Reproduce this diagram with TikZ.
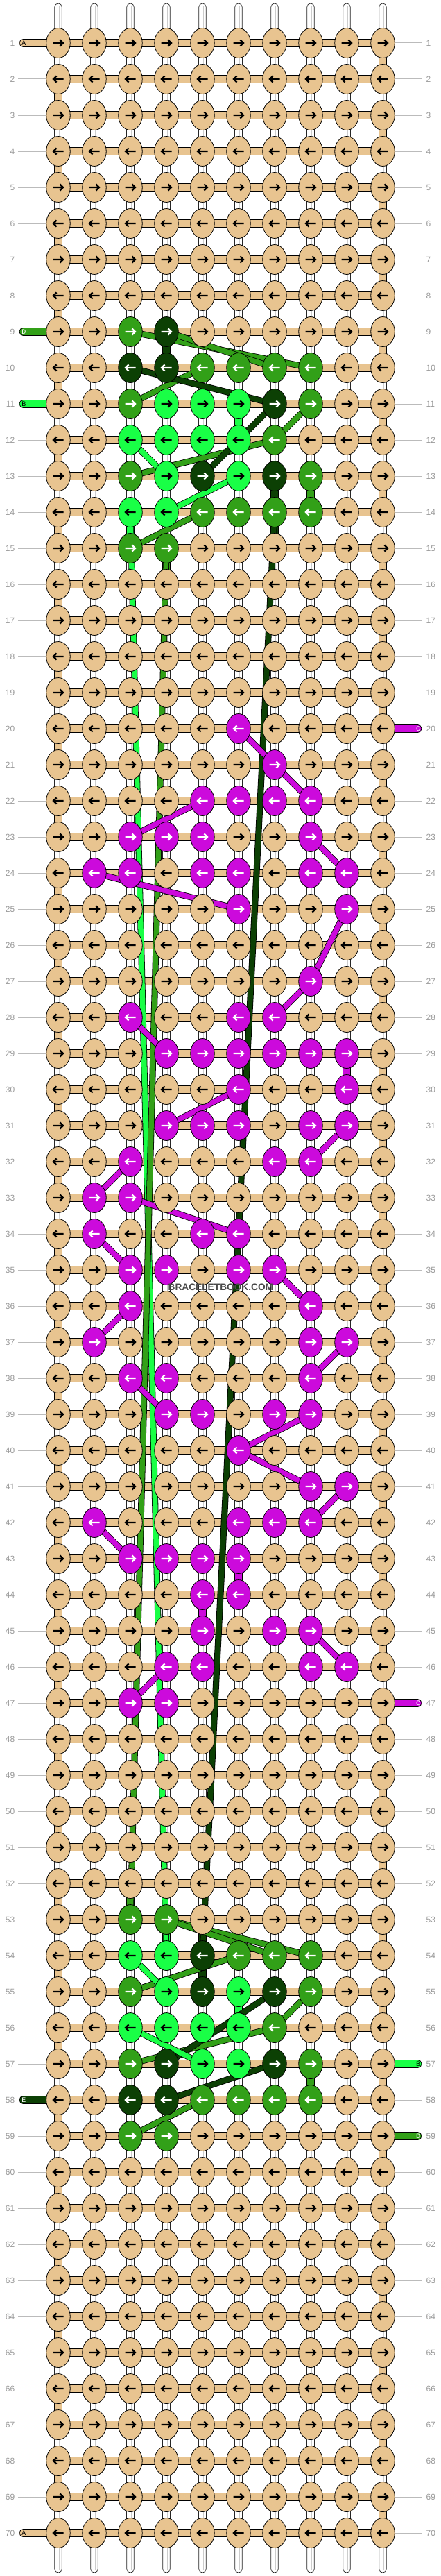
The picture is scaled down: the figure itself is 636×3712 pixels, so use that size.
\documentclass[tikz,border=0pt]{standalone}
\usepackage{fontspec}
\setmainfont{Liberation Sans}
\newfontfamily\monof{Liberation Mono}
\usetikzlibrary{shapes.geometric}
\pgfdeclarelayer{bg}
\pgfdeclarelayer{mid}
\pgfsetlayers{bg,mid,main}
\definecolor{colT}{HTML}{E8C490}
\definecolor{colG}{HTML}{32A018}
\definecolor{colK}{HTML}{0C4004}
\definecolor{colL}{HTML}{19FF46}
\definecolor{colP}{HTML}{CC0ADC}
\colorlet{arT}{black}\colorlet{arL}{black}\colorlet{arG}{white}\colorlet{arK}{white}\colorlet{arP}{white}
\definecolor{labgray}{HTML}{9A9A9A}
\definecolor{linegray}{HTML}{BBBBBB}
\definecolor{wmgray}{HTML}{4A4A4A}
\newcommand\setrow[2]{\foreach \cc/\kk in {#2}{\expandafter\xdef\csname kc#1-\cc\endcsname{\kk}}}
\newcommand\setvs[3]{\expandafter\xdef\csname vs#1-#2\endcsname{#3}}
\newcommand\carryln[3]{\draw[carry=#1] (k-#2.center) -- (k-#3.center);}
\def\vW{W}
\setrow{9}{3/G,4/K}
\setrow{10}{3/K,4/K,5/G,6/G,7/G,8/G}
\setrow{11}{3/G,4/L,5/L,6/L,7/K,8/G}
\setrow{12}{3/L,4/L,5/L,6/L,7/G}
\setrow{13}{3/G,4/L,5/K,6/L,7/K,8/G}
\setrow{14}{3/L,4/L,5/G,6/G,7/G,8/G}
\setrow{15}{3/G,4/G}
\setrow{20}{6/P}
\setrow{21}{7/P}
\setrow{22}{5/P,6/P,7/P,8/P}
\setrow{23}{3/P,4/P,5/P,8/P}
\setrow{24}{2/P,3/P,5/P,6/P,8/P,9/P}
\setrow{25}{6/P,9/P}
\setrow{27}{8/P}
\setrow{28}{3/P,6/P,7/P}
\setrow{29}{4/P,5/P,6/P,7/P,8/P,9/P}
\setrow{30}{6/P,9/P}
\setrow{31}{4/P,5/P,6/P,8/P,9/P}
\setrow{32}{3/P,7/P,8/P}
\setrow{33}{2/P,3/P}
\setrow{34}{2/P,5/P,6/P}
\setrow{35}{3/P,4/P,6/P,7/P}
\setrow{36}{3/P,8/P}
\setrow{37}{2/P,8/P,9/P}
\setrow{38}{3/P,4/P,8/P}
\setrow{39}{4/P,5/P,7/P,8/P}
\setrow{40}{6/P}
\setrow{41}{8/P,9/P}
\setrow{42}{2/P,6/P,7/P,8/P}
\setrow{43}{3/P,4/P,5/P,6/P}
\setrow{44}{5/P,6/P}
\setrow{45}{5/P,7/P,8/P}
\setrow{46}{4/P,5/P,8/P,9/P}
\setrow{47}{3/P,4/P}
\setrow{53}{3/G,4/G}
\setrow{54}{3/L,4/L,5/K,6/G,7/G,8/G}
\setrow{55}{3/G,4/L,5/K,6/L,7/K,8/G}
\setrow{56}{3/L,4/L,5/L,6/L,7/G}
\setrow{57}{3/G,4/K,5/L,6/L,7/K,8/G}
\setrow{58}{3/K,4/K,5/G,6/G,7/G,8/G}
\setrow{59}{3/G,4/G}
\setvs{9}{4}{K}\setvs{11}{6}{L}\setvs{13}{7}{K}\setvs{13}{8}{G}\setvs{14}{3}{L}\setvs{14}{7}{K}\setvs{15}{4}{G}
\setvs{29}{9}{P}\setvs{43}{6}{P}\setvs{44}{5}{P}
\setvs{52}{3}{G}\setvs{53}{4}{L}\setvs{53}{5}{K}\setvs{54}{5}{K}\setvs{55}{6}{L}\setvs{57}{8}{G}
\expandafter\def\csname lt1\endcsname{}\expandafter\def\csname lt9\endcsname{}\expandafter\def\csname lt11\endcsname{}
\expandafter\def\csname lt58\endcsname{}\expandafter\def\csname lt70\endcsname{}
\expandafter\def\csname rt20\endcsname{}\expandafter\def\csname rt47\endcsname{}\expandafter\def\csname rt57\endcsname{}\expandafter\def\csname rt59\endcsname{}
\tikzset{
  knot/.style={ellipse, draw=black, line width=0.8pt, minimum width=34.5pt, minimum height=43pt, inner sep=0pt},
  arr/.style={line width=2.4pt, line cap=butt, line join=miter},
  hseg/.style={fill=colT, draw=black, line width=0.8pt},
  basestr/.style={fill=white, draw=black!85, line width=0.7pt},
  baseline/.style={draw=gray!40, line width=0.8pt},
  carry/.style={draw=black, line width=0.8pt, double=col#1, double distance=7.5pt},
  rowlab/.style={text=labgray, inner sep=0pt, font=\fontsize{12}{12}\selectfont},
  gline/.style={draw=linegray, line width=1pt},
  taillab/.style={inner sep=0pt, font=\monof\fontsize{10}{10}\selectfont}
}
\begin{document}
\begin{tikzpicture}[x=1pt,y=-1pt]
\useasboundingbox (0,0) rectangle (636,3712);
\begin{pgfonlayer}{bg}
\foreach \r in {1,...,70}{
  \pgfmathsetmacro\yy{62+52*(\r-1)}
  \node[rowlab, anchor=east] (ll-\r) at (21.5,\yy) {\r};
  \node[rowlab, anchor=west] (rl-\r) at (614.5,\yy) {\r};
  \ifcsname lt\r\endcsname\else\draw[gline] (26,\yy) -- (67,\yy);\fi
  \ifcsname rt\r\endcsname\else\draw[gline] (569,\yy) -- (608,\yy);\fi
}
\foreach \r/\tc/\lb/\lc in {1/T/A/black,9/G/D/white,11/L/B/black,58/K/E/white,70/T/A/black}{
  \pgfmathsetmacro\yy{62+52*(\r-1)}
  \filldraw[fill=col\tc, draw=black, line width=0.8pt, rounded corners=5.4pt] (28,\yy-5.5) rectangle (84,\yy+5.5);
  \node[taillab, text=\lc] (lt-\r) at (34.5,\yy) {\lb};
}
\foreach \r/\tc/\lb/\lc in {20/P/C/white,47/P/C/white,57/L/B/black,59/G/D/white}{
  \pgfmathsetmacro\yy{62+52*(\r-1)}
  \filldraw[fill=col\tc, draw=black, line width=0.8pt, rounded corners=5.4pt] (552,\yy-5.5) rectangle (608,\yy+5.5);
  \node[taillab, text=\lc] (rt-\r) at (603,\yy) {\lb};
}
\foreach \c in {1,...,10}{
  \pgfmathsetmacro\xx{84+52*(\c-1)}
  \filldraw[basestr, rounded corners=5pt] (\xx-5.2,5) rectangle (\xx+5.2,62);
  \draw[baseline] (\xx+1.2,9) -- (\xx+1.2,62);
  \filldraw[basestr, rounded corners=5pt] (\xx-5.2,3650) rectangle (\xx+5.2,3707);
  \draw[baseline] (\xx+1.2,3650) -- (\xx+1.2,3703);
}
\foreach \r in {1,...,69}{\foreach \c in {1,...,10}{
  \def\vc{W}
  \ifnum\c=10 \ifodd\r\relax\def\vc{T}\fi\fi
  \ifnum\c=1 \ifodd\r\relax\else\def\vc{T}\fi\fi
  \ifcsname vs\r-\c\endcsname\edef\vc{\csname vs\r-\c\endcsname}\fi
  \ifx\vc\vW
    \filldraw[basestr] ({84+52*(\c-1)-5.2},{62+52*(\r-1)}) rectangle ++(10.4,52);
    \draw[baseline] ({84+52*(\c-1)+1.2},{62+52*(\r-1)}) -- ++(0,52);
  \else
    \filldraw[fill=col\vc, draw=black, line width=0.8pt] ({84+52*(\c-1)-5.2},{62+52*(\r-1)}) rectangle ++(10.4,52);
  \fi
}}
\foreach \r in {1,...,70}{\foreach \c in {1,...,9}{
  \filldraw[hseg] ({84+52*(\c-1)},{62+52*(\r-1)-5.5}) rectangle ({84+52*\c},{62+52*(\r-1)+5.5});
}}
\end{pgfonlayer}
\foreach \r in {1,...,70}{\foreach \c in {1,...,10}{
  \ifcsname kc\r-\c\endcsname\edef\kcol{\csname kc\r-\c\endcsname}\else\def\kcol{T}\fi
  \node[knot, fill=col\kcol] (k-\r-\c) at ({84+52*(\c-1)},{62+52*(\r-1)}) {};
  \ifodd\r\relax\def\dd{1}\else\def\dd{-1}\fi
  \draw[arr, draw=ar\kcol, shift={(k-\r-\c.center)}, xscale=\dd] (-7.5,0) -- (6.6,0) (2.4,-4.6) -- (7,0) -- (2.4,4.6);
}}
\begin{pgfonlayer}{mid}
\carryln{L}{14-3}{54-4}
\carryln{G}{15-4}{53-3}
\carryln{K}{14-7}{54-5}
\carryln{G}{9-3}{10-8}\carryln{G}{9-4}{10-7}\carryln{G}{11-3}{10-5}\carryln{G}{11-8}{12-7}\carryln{G}{12-7}{13-3}\carryln{G}{14-5}{15-3}
\carryln{K}{10-3}{11-7}\carryln{K}{11-7}{13-5}
\carryln{L}{12-3}{13-4}\carryln{L}{13-6}{14-4}
\carryln{G}{53-4}{54-8}\carryln{G}{53-4}{54-7}\carryln{G}{54-6}{55-3}\carryln{G}{55-8}{56-7}\carryln{G}{56-7}{57-3}\carryln{G}{58-5}{59-3}
\carryln{K}{55-7}{57-4}\carryln{K}{57-7}{58-4}
\carryln{L}{54-3}{55-4}\carryln{L}{56-3}{57-5}
\carryln{P}{20-6}{21-7}\carryln{P}{21-7}{22-8}\carryln{P}{22-5}{23-3}\carryln{P}{23-8}{24-9}\carryln{P}{24-2}{25-6}
\carryln{P}{25-9}{27-8}\carryln{P}{27-8}{28-7}\carryln{P}{28-3}{29-4}\carryln{P}{30-6}{31-4}\carryln{P}{31-9}{32-8}
\carryln{P}{32-3}{33-2}\carryln{P}{33-3}{34-6}\carryln{P}{34-2}{35-3}\carryln{P}{35-7}{36-8}\carryln{P}{36-3}{37-2}
\carryln{P}{37-9}{38-8}\carryln{P}{38-3}{39-4}\carryln{P}{39-8}{40-6}\carryln{P}{40-6}{41-8}\carryln{P}{41-9}{42-8}
\carryln{P}{42-2}{43-3}\carryln{P}{45-8}{46-9}\carryln{P}{46-4}{47-3}
\end{pgfonlayer}
\node[text=wmgray, inner sep=0pt, font=\bfseries\fontsize{13.7}{14}\selectfont] (wm) at (318.4,1855) {BRACELETBOOK.COM};
\end{tikzpicture}
\end{document}
